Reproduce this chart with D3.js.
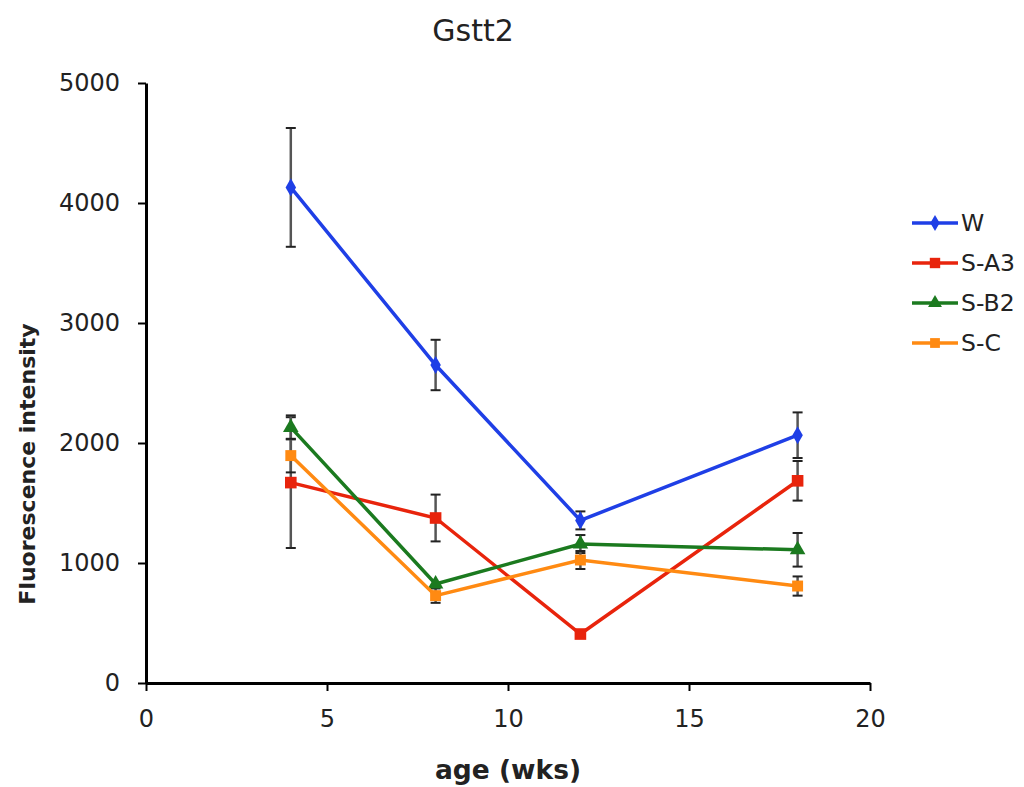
<!DOCTYPE html>
<html>
<head>
<style>
    body { margin: 0; background: #fff; }
    text { font-family: "DejaVu Sans", Verdana, sans-serif; fill: #222; }
</style>
</head>
<body>
<svg id="chart" width="1024" height="787"></svg>
<script src="https://d3js.org/d3.v7.min.js"></script>
<script>
    // data
    const ages = [4, 8, 12, 18];
    const seriesNames = ["W", "S-A3", "S-B2", "S-C"];
    const wValues = [4130, 2650, 1355, 2065];
    const wErrors = [495, 210, 75, 190];
    const a3Values = [1670, 1375, 408, 1685];
    const a3Errors = [545, 195, 0, 165];
    const b2Values = [2130, 825, 1158, 1110];
    const b2Errors = [100, 0, 75, 140];
    const cValues = [1895, 728, 1025, 808];
    const cErrors = [140, 60, 75, 80];
    const xTicks = [0, 5, 10, 15, 20];
    const yTicks = [0, 1000, 2000, 3000, 4000, 5000];

    const colors = ["#1f3fe6", "#e8240c", "#1b7a1f", "#ff8a12"];
    const shapes = [d3.symbolDiamond, d3.symbolSquare, d3.symbolTriangle, d3.symbolSquare];
    const sizes = [95, 135, 105, 120];

    const series = seriesNames.map((name, i) => ({
        name: name,
        color: colors[i],
        shape: shapes[i],
        size: sizes[i],
        values: [wValues, a3Values, b2Values, cValues][i],
        errors: [wErrors, a3Errors, b2Errors, cErrors][i]
    }));

    const svg = d3.select("#chart");
    const plotLeft = 146, plotRight = 870, plotTop = 83, plotBottom = 683;

    const x = d3.scaleLinear().domain([0, 20]).range([plotLeft, plotRight]);
    const y = d3.scaleLinear().domain([0, 5000]).range([plotBottom, plotTop]);

    // axes
    const xAxis = svg.append("g")
        .attr("transform", `translate(0, ${plotBottom})`)
        .call(d3.axisBottom(x).tickValues(xTicks).tickFormat(d3.format("d"))
            .tickSize(8).tickSizeOuter(0).tickPadding(19));
    const yAxis = svg.append("g")
        .attr("transform", `translate(${plotLeft}, 0)`)
        .call(d3.axisLeft(y).tickValues(yTicks).tickFormat(d3.format("d"))
            .tickSize(8).tickSizeOuter(0).tickPadding(18));
    [xAxis, yAxis].forEach(a => {
        a.select(".domain").attr("stroke", "#000").attr("stroke-width", 3);
        a.selectAll(".tick line").attr("stroke", "#000").attr("stroke-width", 2);
        a.selectAll(".tick text").style("font-size", "24px").attr("fill", "#222");
    });

    // error bars drawn under lines
    series.forEach(s => {
        const g = svg.append("g");
        ages.forEach((a, i) => {
            const e = s.errors[i];
            if (!e) return;
            const cx = x(a), y1 = y(s.values[i] + e), y2 = y(s.values[i] - e);
            g.append("line").attr("x1", cx).attr("x2", cx).attr("y1", y1).attr("y2", y2)
                .attr("stroke", "#555").attr("stroke-width", 2.5);
            [y1, y2].forEach(yy => g.append("line")
                .attr("x1", cx - 5).attr("x2", cx + 5).attr("y1", yy).attr("y2", yy)
                .attr("stroke", "#222").attr("stroke-width", 2));
        });
    });

    const line = d3.line().x((d, i) => x(ages[i])).y(d => y(d));

    series.forEach(s => {
        svg.append("path")
            .datum(s.values)
            .attr("d", line)
            .attr("fill", "none")
            .attr("stroke", s.color)
            .attr("stroke-width", 3.5);
        svg.append("g").selectAll("path")
            .data(s.values)
            .enter()
            .append("path")
            .attr("transform", (d, i) => `translate(${x(ages[i])}, ${y(d)})`)
            .attr("d", d3.symbol().type(s.shape).size(s.size))
            .attr("fill", s.color);
    });

    // legend
    const legend = svg.append("g").attr("transform", "translate(912, 223)");
    series.forEach((s, i) => {
        const g = legend.append("g").attr("transform", `translate(0, ${i * 40})`);
        g.append("line").attr("x1", 0).attr("x2", 46).attr("stroke", s.color).attr("stroke-width", 3.5);
        g.append("path").attr("transform", "translate(23, 0)")
            .attr("d", d3.symbol().type(s.shape).size(s.size * 0.8)).attr("fill", s.color);
        g.append("text").attr("x", 49).attr("dy", "0.36em").style("font-size", "23.5px").text(s.name);
    });

    // titles
    svg.append("text").attr("x", 473).attr("y", 41).attr("text-anchor", "middle")
        .style("font-size", "30px").text("Gstt2");
    svg.append("text").attr("x", 508).attr("y", 779).attr("text-anchor", "middle")
        .style("font-size", "26.5px").style("font-weight", "bold").text("age (wks)");
    svg.append("text").attr("transform", "translate(35, 464) rotate(-90)").attr("text-anchor", "middle")
        .style("font-size", "22px").style("font-weight", "bold").text("Fluorescence intensity");
</script>
</body>
</html>
